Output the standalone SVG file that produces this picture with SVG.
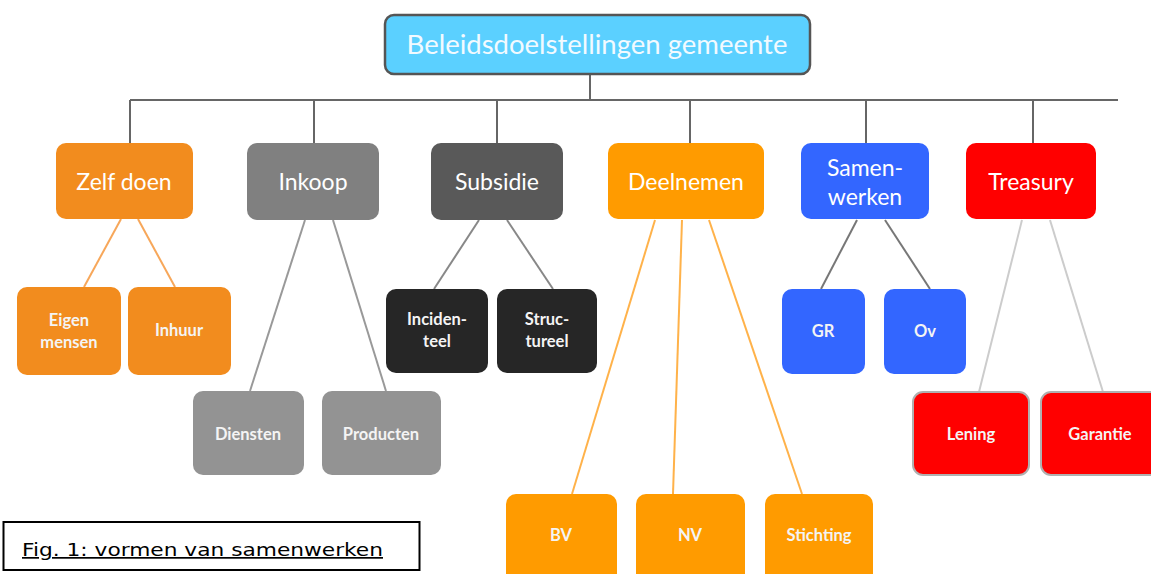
<svg xmlns="http://www.w3.org/2000/svg" width="1151" height="574" viewBox="0 0 1151 574">
<style>
.t1{font-family:Lato,"Open Sans","Liberation Sans",sans-serif;fill:#fff;text-anchor:middle;font-size:23px}
.t2{font-family:Lato,"Open Sans","Liberation Sans",sans-serif;fill:#f4f4f4;text-anchor:middle;font-size:16.5px;font-weight:bold}
.c{fill:none;stroke-width:2}
</style>
<rect width="1151" height="574" fill="#fff"/>
<g id="connectors">
<g stroke="#666" stroke-width="2" fill="none">
<line x1="590" y1="74" x2="590" y2="100"/>
<line x1="130" y1="100" x2="1118" y2="100"/>
<line x1="130" y1="100" x2="130" y2="144"/>
<line x1="314" y1="100" x2="314" y2="144"/>
<line x1="497" y1="100" x2="497" y2="144"/>
<line x1="690" y1="100" x2="690" y2="144"/>
<line x1="866" y1="100" x2="866" y2="144"/>
<line x1="1033" y1="100" x2="1033" y2="144"/>
</g>
<g class="c" stroke="#f7a75a"><line x1="121" y1="219" x2="84" y2="287"/><line x1="138" y1="219" x2="175" y2="287"/></g>
<g class="c" stroke="#999"><line x1="305" y1="220" x2="250" y2="391"/><line x1="333" y1="220" x2="386" y2="391"/></g>
<g class="c" stroke="#888"><line x1="479" y1="220" x2="434" y2="289"/><line x1="507" y1="220" x2="553" y2="289"/></g>
<g class="c" stroke="#ffb24a"><line x1="655" y1="220" x2="572" y2="494"/><line x1="682" y1="220" x2="673" y2="494"/><line x1="709" y1="220" x2="802" y2="494"/></g>
<g class="c" stroke="#777"><line x1="857" y1="220" x2="821" y2="289"/><line x1="885" y1="220" x2="930" y2="289"/></g>
<g class="c" stroke="#ccc"><line x1="1022" y1="220" x2="979" y2="392"/><line x1="1050" y1="220" x2="1103" y2="392"/></g>
</g>
<g id="top"><rect x="385" y="15" width="425" height="59" rx="9" fill="#5bd0ff" stroke="#555" stroke-width="2.5"/><text x="597" y="54" font-family="Lato,'Open Sans','Liberation Sans',sans-serif" font-size="27.5" fill="#f2faff" text-anchor="middle">Beleidsdoelstellingen gemeente</text></g>
<g id="zelf"><rect x="56" y="143" width="137" height="76" rx="10" fill="#f28c1e"/><text class="t1" x="124" y="190">Zelf doen</text></g>
<g id="inkoop"><rect x="247" y="143" width="132" height="77" rx="10" fill="#808080"/><text class="t1" x="313" y="190">Inkoop</text></g>
<g id="subsidie"><rect x="431" y="143" width="132" height="77" rx="10" fill="#595959"/><text class="t1" x="497" y="190">Subsidie</text></g>
<g id="deelnemen"><rect x="608" y="143" width="156" height="76" rx="10" fill="#ff9b00"/><text class="t1" x="686" y="190">Deelnemen</text></g>
<g id="samenwerken"><rect x="801" y="143" width="128" height="76" rx="10" fill="#3366ff"/><text class="t1" x="865" y="176">Samen-</text><text class="t1" x="865" y="205">werken</text></g>
<g id="treasury"><rect x="966" y="143" width="130" height="76" rx="10" fill="#ff0000"/><text class="t1" x="1031" y="190">Treasury</text></g>
<g id="eigen"><rect x="17" y="287" width="104" height="88" rx="10" fill="#f28c1e"/><text class="t2" x="69" y="326">Eigen</text><text class="t2" x="69" y="348">mensen</text></g>
<g id="inhuur"><rect x="128" y="287" width="103" height="88" rx="10" fill="#f28c1e"/><text class="t2" x="179" y="336">Inhuur</text></g>
<g id="diensten"><rect x="193" y="391" width="111" height="84" rx="10" fill="#939393"/><text class="t2" x="248" y="440">Diensten</text></g>
<g id="producten"><rect x="322" y="391" width="119" height="84" rx="10" fill="#939393"/><text class="t2" x="381" y="440">Producten</text></g>
<g id="incidenteel"><rect x="386" y="289" width="102" height="84" rx="10" fill="#262626"/><text class="t2" x="437" y="325">Inciden-</text><text class="t2" x="437" y="347">teel</text></g>
<g id="structureel"><rect x="497" y="289" width="100" height="84" rx="10" fill="#262626"/><text class="t2" x="547" y="325">Struc-</text><text class="t2" x="547" y="347">tureel</text></g>
<g id="bv"><rect x="506" y="494" width="111" height="90" rx="10" fill="#ff9b00"/><text class="t2" x="561" y="541">BV</text></g>
<g id="nv"><rect x="636" y="494" width="109" height="90" rx="10" fill="#ff9b00"/><text class="t2" x="690" y="541">NV</text></g>
<g id="stichting"><rect x="765" y="494" width="108" height="90" rx="10" fill="#ff9b00"/><text class="t2" x="819" y="541">Stichting</text></g>
<g id="gr"><rect x="782" y="289" width="83" height="85" rx="10" fill="#3366ff"/><text class="t2" x="823" y="337">GR</text></g>
<g id="ov"><rect x="884" y="289" width="82" height="85" rx="10" fill="#3366ff"/><text class="t2" x="925" y="337">Ov</text></g>
<g id="lening"><rect x="913" y="392" width="116" height="83" rx="10" fill="#ff0000" stroke="#b0b0b0" stroke-width="2"/><text class="t2" x="971" y="440">Lening</text></g>
<g id="garantie"><rect x="1041" y="392" width="120" height="83" rx="10" fill="#ff0000" stroke="#b0b0b0" stroke-width="2"/><text class="t2" x="1100" y="440">Garantie</text></g>
<g id="caption"><rect x="3.5" y="522" width="416" height="48" fill="#fff" stroke="#000" stroke-width="2"/><text x="22" y="556" font-family="'DejaVu Sans',Verdana,sans-serif" font-size="17" fill="#000" text-decoration="underline" textLength="361" lengthAdjust="spacingAndGlyphs">Fig. 1: vormen van samenwerken</text></g>
</svg>
